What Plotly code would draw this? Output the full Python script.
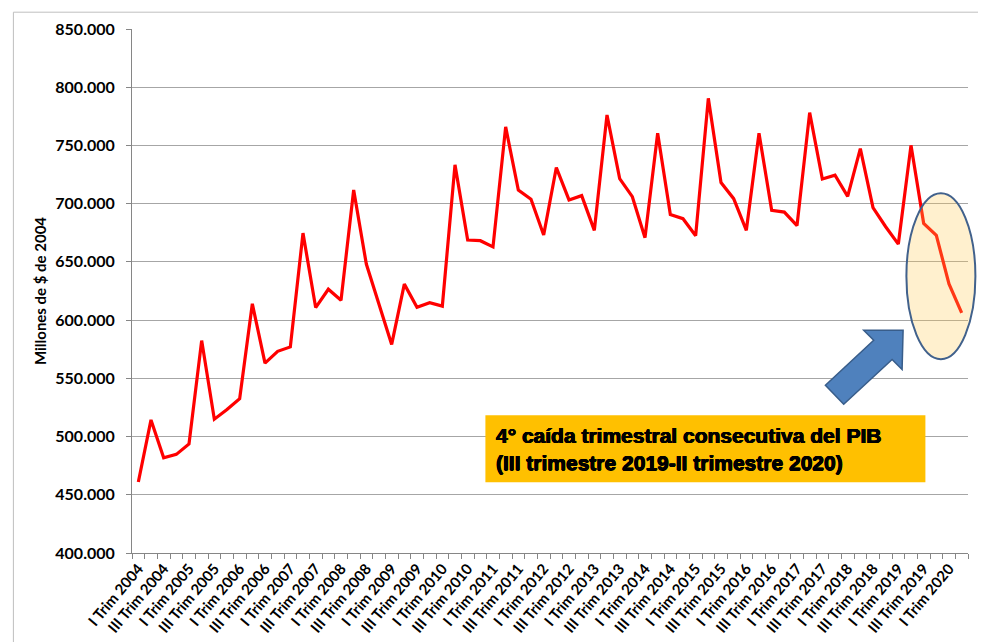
import plotly.graph_objects as go

# ---- data ----
years = list(range(2004, 2021))
quarter_names = ["I", "II", "III", "IV"]
quarters = [f"{q} Trim {y}" for y in years for q in quarter_names][:66]

pib = [461000, 514300, 481700, 484700, 493600, 582400, 514900, 523200, 532600, 614000,
       563100, 573200, 577000, 674700, 610800, 626500, 617000, 711700, 648100, 613700,
       579100, 630900, 611100, 614900, 612000, 733400, 668800, 668200, 662900, 765900,
       711700, 703800, 673100, 731000, 703200, 706900, 677100, 776200, 721500, 706000,
       670800, 760500, 690600, 687100, 672500, 790500, 718100, 704300, 677100, 760500,
       694300, 692800, 681100, 778200, 721200, 724400, 706300, 747300, 696600, 680200,
       665300, 750100, 683100, 672800, 631000, 606300]

y_title = "Millones de $ de 2004"
note_text = "4° caída trimestral consecutiva del PIB<br>(III trimestre 2019-II trimestre 2020)"

# ---- layout geometry (screen pixels; page body adds an 8px offset) ----
W, H = 986, 642
OFF = 8
L, R, T, B = 131.6, 967.6, 28.8, 552.8

def px(x):
    return (x - L) / (R - L)

def py(y):
    return (B - y) / (B - T)

xi = list(range(len(quarters)))

fig = go.Figure()
fig.add_trace(go.Scatter(
    x=xi, y=pib, mode="lines",
    line=dict(color="#FF0000", width=3.2),
    hoverinfo="skip", showlegend=False,
))

shapes = []
# outer frame
shapes.append(dict(type="rect", xref="paper", yref="paper",
                   x0=px(13), x1=px(1010), y0=py(12), y1=py(670),
                   line=dict(color="#BFBFBF", width=1), fillcolor="rgba(0,0,0,0)",
                   layer="below"))
# yellow note box
shapes.append(dict(type="rect", xref="paper", yref="paper",
                   x0=px(485), x1=px(925), y0=py(415), y1=py(482),
                   line=dict(width=0), fillcolor="#FFC000", layer="above"))
# ellipse highlight
shapes.append(dict(type="circle", xref="paper", yref="paper",
                   x0=px(906), x1=px(975), y0=py(193), y1=py(359),
                   line=dict(color="#41618C", width=2),
                   fillcolor="rgba(255,200,80,0.28)", layer="above"))
# block arrow
pts = [(902.7, 330), (863.3, 330), (873.3, 340), (825, 385),
       (843.3, 404), (891.7, 359.3), (901.7, 369.3)]
path = "M " + " L ".join(f"{px(a):.5f},{py(b):.5f}" for a, b in pts) + " Z"
shapes.append(dict(type="path", xref="paper", yref="paper", path=path,
                   fillcolor="#4F81BD", line=dict(color="#385D8A", width=1.5),
                   layer="above"))

heavy = "0.5px 0 0 black, -0.5px 0 0 black, 0 0.4px 0 black, 0 -0.4px 0 black"

fig.update_layout(
    width=W, height=H,
    margin=dict(l=L - OFF, r=W - R + OFF, t=T - OFF, b=H - B + OFF, autoexpand=False),
    paper_bgcolor="white", plot_bgcolor="white",
    separators=",.",
    font=dict(family="Lato, 'Open Sans', sans-serif", color="black"),
    shapes=shapes,
    annotations=[dict(
        xref="paper", yref="paper", x=px(494), y=py(449),
        xanchor="left", yanchor="middle", align="left",
        text=note_text, showarrow=False,
        font=dict(family="Liberation Sans, Arial, sans-serif", size=21, color="black",
                  weight="bold", shadow=heavy),
    )],
    xaxis=dict(
        range=[-0.5, len(quarters) - 0.5],
        tickmode="array", tickvals=xi[::2],
        ticktext=quarters[::2],
        tickangle=-50, ticks="", showgrid=False, zeroline=False,
        showline=True, linecolor="#868686", linewidth=1,
        tickfont=dict(size=15, color="black", weight="bold"),
        minor=dict(ticks="outside", tick0=0.5, dtick=1, ticklen=5,
                   tickcolor="#868686", showgrid=False),
    ),
    yaxis=dict(
        range=[400000, 850000], dtick=50000, tick0=400000,
        tickformat=",.0f", ticks="outside", ticklen=5, tickcolor="#868686",
        showline=True, linecolor="#868686", linewidth=1,
        showgrid=True, gridcolor="#A6A6A6", gridwidth=1, zeroline=False,
        tickfont=dict(size=16, color="black", weight="bold"),
        ticklabelstandoff=8,
        title=dict(text=y_title, font=dict(size=15, color="black", weight="bold"),
                   standoff=5),
    ),
)

fig.write_html("out.html")
